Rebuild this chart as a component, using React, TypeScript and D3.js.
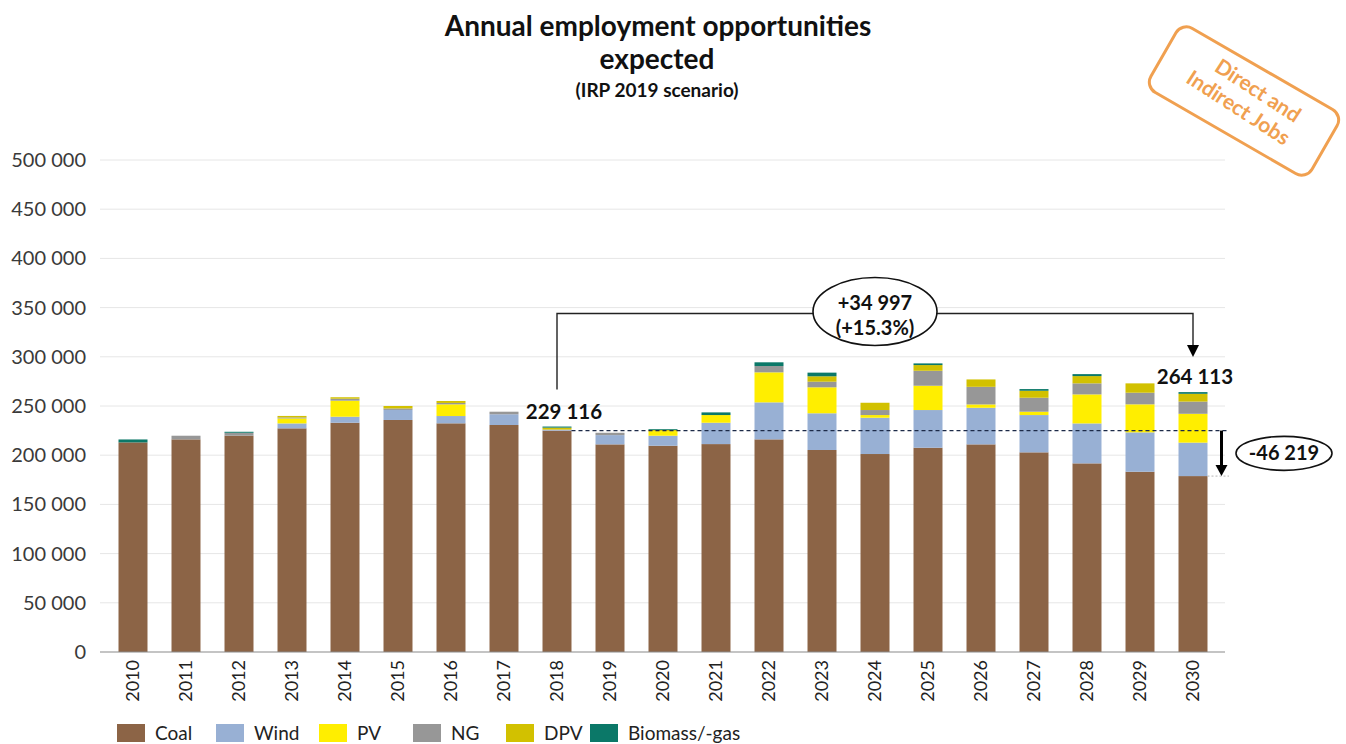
import React from "react";
import * as d3 from "d3";

// Annual jobs by technology, IRP 2019 scenario
const years = ["2010","2011","2012","2013","2014","2015","2016","2017","2018","2019","2020","2021","2022","2023","2024","2025","2026","2027","2028","2029","2030"];
const coal = [213000,216100,219800,227300,233000,235800,232400,230700,225000,211000,209600,211300,216100,205300,201200,207600,211000,202900,191700,183200,178781];
const wind = [0,0,0,5000,6100,10200,7400,10900,1000,9400,10200,21700,37600,37300,36900,38300,37200,37900,40600,40000,34000];
const pv = [0,0,0,5100,16300,0,11900,0,0,0,4700,7800,30500,26400,2700,24700,3400,3400,29500,28500,29300];
const ng = [0,3700,3000,1000,2000,1500,1400,2600,0,2400,0,0,6400,5700,5100,15200,17900,14200,11200,11800,12400];
const dpv = [0,0,0,1500,1500,2500,2000,0,2000,0,1200,0,0,5500,7400,5800,7500,7100,7400,9500,7900];
const biomass = [3000,0,1000,0,0,0,0,0,1116,0,800,2700,3800,3700,0,1700,0,1700,2000,0,1732];

const seriesNames = ["Coal","Wind","PV","NG","DPV","Biomass/-gas"];
const seriesColors = ["#8C6446","#98B0D4","#FFEE00","#979797","#D2C100","#0B7868"];
const yTicks = [0,50000,100000,150000,200000,250000,300000,350000,400000,450000,500000];

const W = 1346, H = 744;
const FONT = "Lato, 'Open Sans', sans-serif";
const fmt = (n: number) => d3.format(",")(Math.round(n)).replace(/,/g, " ").replace("\u2212", "-");

export default function App() {
  const rows = years.map((yr, i) => ({
    year: yr,
    Coal: coal[i], Wind: wind[i], PV: pv[i], NG: ng[i], DPV: dpv[i], "Biomass/-gas": biomass[i],
  }));
  const stack = d3.stack<any>().keys(seriesNames)(rows);

  const x = d3.scaleBand<string>().domain(years).range([106.5, 1219.5]).paddingInner(0.453).paddingOuter(0.2265);
  const y = d3.scaleLinear().domain([0, 500000]).range([652, 160]);
  const bw = x.bandwidth();
  const cx = (yr: string) => (x(yr) as number) + bw / 2;

  const total = (i: number) => coal[i] + wind[i] + pv[i] + ng[i] + dpv[i] + biomass[i];
  const i18 = years.indexOf("2018");
  const i30 = years.indexOf("2030");
  const t18 = total(i18), t30 = total(i30);
  const growth = t30 - t18;
  const coalDrop = coal[i30] - coal[i18];

  const xL = cx("2018"), xR = cx("2030");
  const bracketY = y(344000);
  const yCoal18 = y(coal[i18]);
  const yCoal30 = y(coal[i30]);
  const arrowX = (x("2030") as number) + bw + 14;

  const legendX = [117, 216, 319, 413, 506, 590];

  return (
    <div style={{ position: "absolute", left: 0, top: 0 }}>
      <svg width={W} height={H} style={{ display: "block", background: "#fff" }} fontFamily={FONT}>
        {/* title */}
        <text x={658} y={36} textAnchor="middle" fontSize={28} fontWeight={700} fill="#111">Annual employment opportunities</text>
        <text x={657} y={69} textAnchor="middle" fontSize={28} fontWeight={700} fill="#111">expected</text>
        <text x={657} y={97} textAnchor="middle" fontSize={19} fontWeight={700} fill="#111">(IRP 2019 scenario)</text>

        {/* grid and y axis */}
        {yTicks.map(t => (
          <g key={t}>
            {t > 0 && <line x1={100} x2={1225} y1={y(t)} y2={y(t)} stroke="#E6E6E6" strokeWidth={1} />}
            <text x={86} y={y(t)} dy="0.35em" textAnchor="end" fontSize={20} fill="#3a3a3a">{fmt(t)}</text>
          </g>
        ))}

        {/* stacked bars */}
        {stack.map((s, k) => (
          <g key={s.key} fill={seriesColors[k]}>
            {s.map((d: any, i: number) => (
              <rect key={i} x={x(years[i])} width={bw} y={y(d[1])} height={Math.max(0, y(d[0]) - y(d[1]))} />
            ))}
          </g>
        ))}
        <line x1={100} x2={1225} y1={y(0)} y2={y(0)} stroke="#8a8a8a" strokeWidth={1.2} />

        {/* x axis labels */}
        {years.map(yr => (
          <text key={yr} transform={`translate(${cx(yr) + 6},${660}) rotate(-90)`} textAnchor="end" fontSize={18} fill="#222">{yr}</text>
        ))}

        {/* reference level: coal jobs in 2018 */}
        <line x1={(x("2018") as number) + bw} x2={1229} y1={yCoal18} y2={yCoal18} stroke="#1c2a48" strokeWidth={1.4} strokeDasharray="4 3" />
        <line x1={(x("2030") as number) + bw} x2={1229} y1={yCoal30} y2={yCoal30} stroke="#b5b5b5" strokeWidth={1} strokeDasharray="2 2" />
        <line x1={arrowX} x2={arrowX} y1={yCoal18} y2={yCoal30 - 9} stroke="#000" strokeWidth={3} />
        <path d={`M${arrowX - 6},${yCoal30 - 11} L${arrowX + 6},${yCoal30 - 11} L${arrowX},${yCoal30} Z`} fill="#000" />
        <ellipse cx={1284} cy={(yCoal18 + yCoal30) / 2} rx={48} ry={17} fill="#fff" stroke="#111" strokeWidth={1.6} />
        <text x={1284} y={(yCoal18 + yCoal30) / 2} dy="0.35em" textAnchor="middle" fontSize={20} fontWeight={700} fill="#111">{fmt(coalDrop)}</text>

        {/* growth bracket 2018 → 2030 */}
        <path d={`M${xL},${y(t18) - 37} V${bracketY} H${xR} V${y(t30) - 45}`} fill="none" stroke="#222" strokeWidth={1.4} />
        <path d={`M${xR - 6},${y(t30) - 47} L${xR + 6},${y(t30) - 47} L${xR},${y(t30) - 35} Z`} fill="#000" />
        <ellipse cx={(xL + xR) / 2} cy={bracketY - 2} rx={62} ry={34} fill="#fff" stroke="#111" strokeWidth={1.6} />
        <text x={(xL + xR) / 2} y={bracketY - 4} textAnchor="middle" fontSize={20} fontWeight={700} fill="#111">+{fmt(growth)}</text>
        <text x={(xL + xR) / 2} y={bracketY + 21} textAnchor="middle" fontSize={20} fontWeight={700} fill="#111">(+{(growth / t18 * 100).toFixed(1)}%)</text>

        <text x={xL + 7} y={y(t18) - 8} textAnchor="middle" fontSize={20.5} fontWeight={700} fill="#111">{fmt(t18)}</text>
        <text x={xR + 2} y={y(t30) - 8} textAnchor="middle" fontSize={20.5} fontWeight={700} fill="#111">{fmt(t30)}</text>

        {/* stamp */}
        <g transform="translate(1244,101) rotate(30)">
          <rect x={-93} y={-37} width={186} height={74} rx={12} fill="none" stroke="#F0A050" strokeWidth={3} />
          <g transform="rotate(3)">
            <text x={6} y={-9} textAnchor="middle" fontSize={21} fontWeight={700} fill="#F0A050">Direct and</text>
            <text x={-1} y={16} textAnchor="middle" fontSize={21} fontWeight={700} fill="#F0A050">Indirect Jobs</text>
          </g>
        </g>

        {/* legend */}
        {seriesNames.map((name, k) => (
          <g key={name} transform={`translate(${legendX[k]},${733})`}>
            <rect x={0} y={-9} width={28} height={18} fill={seriesColors[k]} />
            <text x={38} y={0} dy="0.35em" fontSize={19} fill="#222">{name}</text>
          </g>
        ))}
      </svg>
    </div>
  );
}
